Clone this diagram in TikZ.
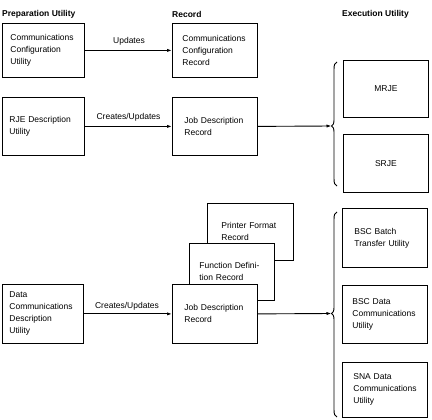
\documentclass[tikz,border=0pt]{standalone}
\usepackage{fontspec}
\setmainfont{Liberation Sans}
\usetikzlibrary{arrows.meta}
\tikzset{
  txt/.style={font=\fontsize{8.5}{12}\selectfont},
  head/.style={font=\bfseries\fontsize{8.5}{12}\selectfont, anchor=west, inner sep=0pt},
  box/.style={draw, fill=white, line width=0.8pt, anchor=north west, align=left,
    inner xsep=0pt, inner ysep=2pt, font=\fontsize{8.5}{12}\selectfont},
  cbox/.style={draw, fill=white, line width=0.8pt, anchor=north west, align=center,
    inner sep=0pt, font=\fontsize{8.5}{12}\selectfont},
  conn/.style={line width=0.9pt, -{Latex[length=5pt,width=3.2pt]}},
  brace/.style={line width=0.9pt},
  lbl/.style={font=\fontsize{8.5}{12}\selectfont, inner sep=0pt}
}
\begin{document}
\begin{tikzpicture}[x=1pt,y=-1pt]
\useasboundingbox (0,0) rectangle (432,420);
% headers
\node[head] (h1) at (2,14) {Preparation Utility};
\node[head] (h2) at (172,14) {Record};
\node[head] (h3) at (342,14) {Execution Utility};
% row 1
\node[box, minimum width=82, minimum height=54, text width=66] (ccu) at (2,23)
  {Communications\\Configuration\\Utility};
\node[box, minimum width=85, minimum height=54, text width=65] (ccr) at (172,23)
  {Communications\\Configuration\\Record};
% row 2
\node[box, minimum width=82, minimum height=58, text width=68] (rje) at (2,97)
  {RJE Description\\Utility};
\node[box, minimum width=85, minimum height=58, text width=61] (jdr1) at (172,97)
  {Job Description\\Record};
\node[cbox, minimum width=85, minimum height=57] (mrje) at (343,60) {MRJE};
\node[cbox, minimum width=85, minimum height=58] (srje) at (343,134) {SRJE};
% row 3 stacked records
\node[box, minimum width=86, minimum height=57, text width=58] (pfr) at (207,203)
  {Printer Format\\Record};
\node[box, minimum width=85, minimum height=57, text width=65] (fdr) at (189,243)
  {Function Defini-\\tion Record};
\node[box, minimum width=85, minimum height=59, text width=61] (jdr2) at (172,284)
  {Job Description\\Record};
\node[box, minimum width=81, minimum height=59, text width=67] (dcu) at (2,284)
  {Data\\Communications\\Description\\Utility};
\node[box, minimum width=85, minimum height=59, text width=61] (bsb) at (342,208)
  {BSC Batch\\Transfer Utility};
\node[box, minimum width=85, minimum height=58, text width=65] (bsd) at (342,285)
  {BSC Data\\Communications\\Utility};
\node[box, minimum width=85, minimum height=55, text width=63] (sna) at (342,362)
  {SNA Data\\Communications\\Utility};
% labels
\node[lbl] (l1) at (129,41) {Updates};
\node[lbl] (l2) at (128.5,117) {Creates/Updates};
\node[lbl] (l3) at (127,306) {Creates/Updates};
% connectors
\draw[conn] (ccu.east) -- (ccr.west);
\draw[conn] (rje.east) -- (jdr1.west);
\draw[conn] (dcu.east) -- (jdr2.west);
\coordinate (b1) at (331.5,126);
\coordinate (b2) at (331.5,313.5);
\draw[conn] (jdr1.east) -- (b1);
\draw[conn] (jdr2.east) -- (b2);
% braces
\draw[brace] (337,62) .. controls (334.5,62.5) and (334,65) .. (334,70) -- (334,120)
  .. controls (334,123.5) and (333,125.5) .. (b1)
  .. controls (333,126.5) and (334,128.5) .. (334,132) -- (334,178)
  .. controls (334,183) and (334.5,185.5) .. (337,186);
\draw[brace] (337,212) .. controls (334.5,212.5) and (334,215) .. (334,220) -- (334,307.5)
  .. controls (334,311) and (333,313) .. (b2)
  .. controls (333,314) and (334,316) .. (334,319.5) -- (334,409)
  .. controls (334,414) and (334.5,416.5) .. (337,417);
\end{tikzpicture}
\end{document}
